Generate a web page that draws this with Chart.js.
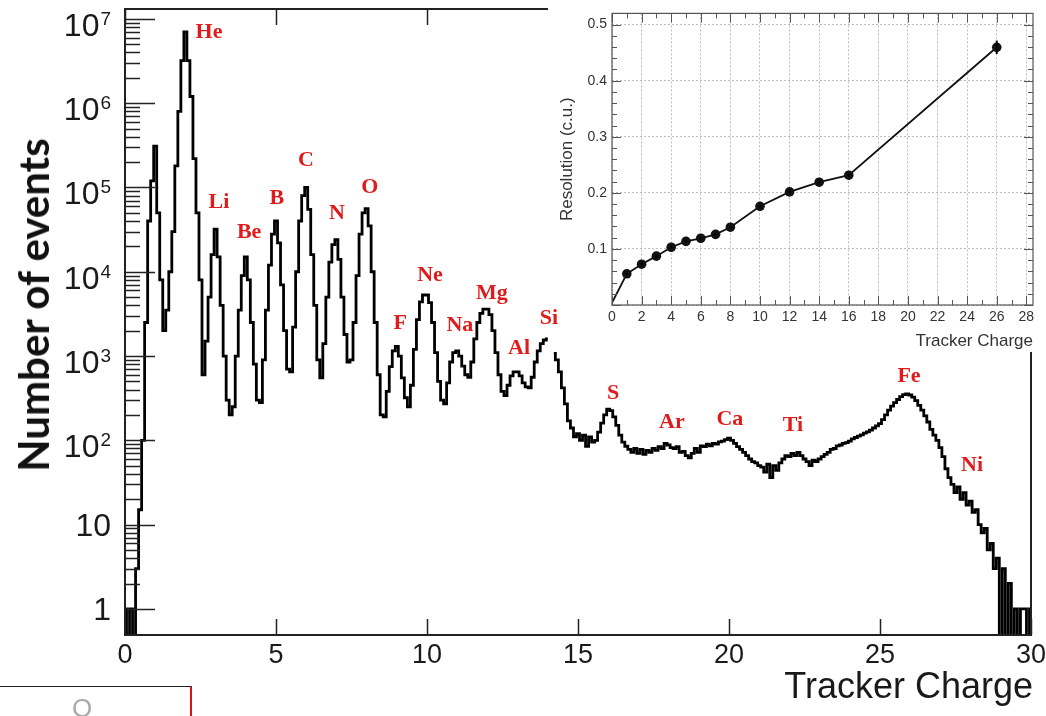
<!DOCTYPE html>
<html>
<head>
<meta charset="utf-8">
<script src="https://cdn.jsdelivr.net/npm/chart.js@4.4.1/dist/chart.umd.min.js"></script>
<style>
  body { margin: 0; background: #fff; }
  #wrap { position: relative; width: 1046px; height: 716px; overflow: hidden; }
  #mainChart { position: absolute; left: 0; top: 0; }
  #insetBox { position: absolute; left: 548px; top: 0; width: 498px; height: 352px; }
  #yTitle {
    position: absolute; left: 33px; top: 305px;
    transform: translate(-50%, -50%) rotate(-90deg);
    font: bold 42px Lato, "Open Sans", sans-serif; color: #111; white-space: nowrap;
  }
  #xTitle {
    position: absolute; right: 13px; top: 668px;
    font: 36px "Liberation Sans", Arial, sans-serif; line-height: 36px; color: #1a1a1a;
  }
  #slideBox {
    position: absolute; left: -2px; top: 686px; width: 192px; height: 40px;
    border-top: 1.5px solid #222; border-right: 2px solid #d11;
  }
  #slideBox span {
    position: absolute; left: 74px; top: 8px;
    font: 26px "Liberation Sans", Arial, sans-serif; line-height: 26px; color: #aaa;
  }
</style>
</head>
<body>
<div id="wrap">
  <canvas id="mainChart" width="1046" height="716"></canvas>
  <div id="yTitle">Number of events</div>
  <div id="xTitle">Tracker Charge</div>
  <div id="slideBox"><span>O</span></div>
  <div id="insetBox"><canvas id="insetChart" width="498" height="352"></canvas></div>
</div>
<script>
// --- MAIN HISTOGRAM DATA (counts per 0.1 charge bin) ---
const BIN_START = 0;
const BIN_WIDTH = 0.1;
const counts = [
  1, 0, 1, 0, 3, 15, 100, 2500, 4.0e4, 1.2e5,                 // 0.0 - 0.9
  3.1e5, 5.0e4, 8000, 2000, 3500, 1.0e4, 3.0e4, 1.8e5, 8.0e5, 3.2e6, // 1.x
  7.0e6, 3.2e6, 1.2e6, 2.2e5, 5.0e4, 8000, 600, 1500, 5000, 1.6e4,   // 2.x
  3.2e4, 1.5e4, 4000, 1000, 300, 200, 250, 1000, 3500, 9000,         // 3.x
  1.5e4, 8000, 2500, 800, 300, 280, 900, 3500, 1.2e4, 2.8e4,         // 4.x
  4.0e4, 2.2e4, 7000, 2000, 700, 650, 2200, 1.0e4, 4.0e4, 8.0e4,     // 5.x
  1.0e5, 5.5e4, 1.6e4, 4000, 900, 550, 1400, 5000, 1.3e4, 2.1e4,     // 6.x
  2.4e4, 1.4e4, 5000, 1800, 850, 900, 2500, 9000, 2.8e4, 5.0e4,      // 7.x
  5.6e4, 3.5e4, 1.0e4, 2500, 600, 200, 190, 380, 750, 1150,          // 8.x
  1300, 1000, 550, 320, 250, 450, 1200, 2700, 4400, 5300,            // 9.x
  5300, 4300, 2500, 1100, 500, 300, 270, 480, 850, 1100,             // 10.x
  1150, 1000, 760, 600, 560, 850, 1600, 2500, 3200, 3600,            // 11.x
  3600, 3100, 2000, 1100, 600, 380, 340, 450, 580, 650,              // 12.x
  650, 580, 480, 430, 420, 560, 850, 1150, 1400, 1550,               // 13.x
  1600, null, 1100, 900, 650, 420, 270, 170, 140, 110,               // 14.x
  120, 100, 115, 85, 110, 95, 100, 125, 160, 200,                    // 15.x
  235, 225, 190, 150, 115, 95, 85, 78, 72, 80,                       // 16.x
  70, 78, 68, 76, 72, 80, 76, 84, 80, 92,                            // 17.x
  88, 82, 80, 84, 72, 74, 66, 62, 70, 80,                            // 18.x
  72, 86, 84, 90, 86, 92, 90, 96, 98, 102,                           // 19.x
  106, 100, 92, 84, 78, 72, 66, 60, 56, 54,                          // 20.x
  50, 48, 42, 52, 36, 50, 44, 54, 60, 66,                            // 21.x
  64, 70, 66, 72, 66, 60, 56, 50, 58, 56,                            // 22.x
  60, 64, 68, 72, 78, 80, 86, 88, 92, 94,                            // 23.x
  98, 104, 108, 112, 116, 122, 126, 132, 140, 148,                   // 24.x
  158, 176, 200, 228, 255, 280, 305, 330, 348, 355,                  // 25.x
  345, 325, 295, 260, 228, 195, 165, 135, 115, 100,                  // 26.x
  82, 64, 46, 36, 30, 24, 28, 20, 24, 17,                            // 27.x
  19, 14, 15, 10, 8, 9, 5, 6, 3, 4,                                  // 28.x
  0, 3, 0, 2, 0, 1, 0, 1, 1, 0,                                      // 29.x
  1                                                                  // 30.0
];

const xTicks = [0, 5, 10, 15, 20, 25, 30];
const yTicks = [1, 10, 1e2, 1e3, 1e4, 1e5, 1e6, 1e7];
const yTickBase = ['1', '10', '10', '10', '10', '10', '10', '10'];
const yTickExp = ['', '', '2', '3', '4', '5', '6', '7'];

// element labels (charge, count at label centre)
const elemNames = ['He', 'Li', 'Be', 'B', 'C', 'N', 'O', 'F', 'Ne', 'Na', 'Mg', 'Al', 'Si', 'S', 'Ar', 'Ca', 'Ti', 'Fe', 'Ni'];
const elemCharge = [2.78, 3.11, 4.11, 5.03, 5.99, 7.02, 8.11, 9.11, 10.1, 11.09, 12.15, 13.05, 14.04, 16.16, 18.11, 20.03, 22.12, 25.96, 28.05];
const elemCount = [7.0e6, 6.6e4, 2.9e4, 7.4e4, 2.1e5, 5.0e4, 1.0e5, 2450, 9100, 2340, 5600, 1230, 2800, 360, 162, 178, 151, 575, 51];

// --- INSET DATA (resolution vs charge) ---
const inCharge = [0, 1, 2, 3, 4, 5, 6, 7, 8, 10, 12, 14, 16, 26];
const inRes = [0.004, 0.0556, 0.0728, 0.0871, 0.103, 0.1135, 0.119, 0.126, 0.1387, 0.176, 0.2017, 0.219, 0.2315, 0.4596];
const inErr = [0, 0.002, 0.002, 0.002, 0.002, 0.002, 0.002, 0.002, 0.002, 0.002, 0.002, 0.002, 0.003, 0.012];

const FLOOR = 0.1; // empty bins are drawn down to the axis
const histData = counts.map((c, i) => ({
  x: BIN_START + i * BIN_WIDTH,
  y: c === null ? null : (c > 0 ? c : FLOOR)
}));

function seg(ctx, x1, y1, x2, y2) {
  ctx.beginPath(); ctx.moveTo(x1, y1); ctx.lineTo(x2, y2); ctx.stroke();
}

// --- 1. MAIN FRAME, TICKS, LABELS (ROOT style, ticks inside) ---
const rootFrame = {
  id: 'rootFrame',
  afterDatasetsDraw(chart) {
    const { ctx, chartArea: a, scales: { x, y } } = chart;
    ctx.save();
    ctx.strokeStyle = '#222';
    ctx.lineWidth = 2;
    ctx.strokeRect(a.left, a.top, a.right - a.left, a.bottom - a.top);

    ctx.lineWidth = 1.5;
    for (let e = 0; e <= 7; e++) {
      for (let k = 1; k <= 9; k++) {
        const v = k * Math.pow(10, e);
        if (v > y.max) break;
        const py = Math.round(y.getPixelForValue(v)) + 0.5;
        seg(ctx, a.left, py, a.left + (k === 1 ? 30 : 15), py);
      }
    }
    xTicks.forEach(v => {
      const px = Math.round(x.getPixelForValue(v)) + 0.5;
      seg(ctx, px, a.bottom, px, a.bottom - 16);
      seg(ctx, px, a.top, px, a.top + 16);
    });

    // white panel behind the inset plot
    ctx.fillStyle = '#fff';
    ctx.fillRect(548, 0, 498, 352);

    // tick labels
    ctx.fillStyle = '#1a1a1a';
    ctx.textBaseline = 'alphabetic';
    ctx.font = '27px "Liberation Sans", Arial, sans-serif';
    ctx.textAlign = 'center';
    xTicks.forEach(v => ctx.fillText(String(v), x.getPixelForValue(v), a.bottom + 28));

    const right = 111;
    yTicks.forEach((v, i) => {
      const py = y.getPixelForValue(v);
      if (yTickExp[i]) {
        ctx.font = '19px "Liberation Sans", Arial, sans-serif';
        const ew = ctx.measureText(yTickExp[i]).width;
        ctx.textAlign = 'left';
        ctx.fillText(yTickExp[i], right - ew, py + 6);
        ctx.font = '32px "Liberation Sans", Arial, sans-serif';
        ctx.textAlign = 'right';
        ctx.fillText(yTickBase[i], right - ew - 1, py + 17);
      } else {
        ctx.font = '32px "Liberation Sans", Arial, sans-serif';
        ctx.textAlign = 'right';
        ctx.fillText(yTickBase[i], right, py + 11);
      }
    });

    // element names
    ctx.fillStyle = '#e01b1b';
    ctx.font = 'bold 22px "Liberation Serif", "Times New Roman", serif';
    ctx.textAlign = 'center';
    ctx.textBaseline = 'middle';
    elemNames.forEach((n, i) => {
      ctx.fillText(n, x.getPixelForValue(elemCharge[i]), y.getPixelForValue(elemCount[i]));
    });
    ctx.restore();
  }
};

new Chart(document.getElementById('mainChart'), {
  type: 'line',
  data: {
    datasets: [{
      data: histData,
      borderColor: '#000',
      borderWidth: 2.8,
      pointRadius: 0,
      stepped: 'middle',
      spanGaps: false,
      fill: false
    }]
  },
  options: {
    responsive: false,
    animation: false,
    layout: { padding: { left: 125, right: 15, top: 9, bottom: 81 } },
    plugins: { legend: { display: false }, tooltip: { enabled: false } },
    scales: {
      x: { type: 'linear', min: 0, max: 30, display: false },
      y: { type: 'logarithmic', min: 0.49, max: 1.31e7, display: false }
    }
  },
  plugins: [rootFrame]
});

// --- 2. INSET ---
const insetFrame = {
  id: 'insetFrame',
  afterDatasetsDraw(chart) {
    const { ctx, chartArea: a, scales: { x, y } } = chart;
    ctx.save();
    ctx.strokeStyle = '#555';
    ctx.lineWidth = 1.2;
    ctx.strokeRect(a.left, a.top, a.right - a.left, a.bottom - a.top);
    ctx.lineWidth = 1;
    for (let v = 0; v <= 0.52; v += 0.02) {
      const py = Math.round(y.getPixelForValue(v)) + 0.5;
      const major = Math.abs(v * 10 - Math.round(v * 10)) < 1e-6;
      const len = major ? 9 : 5;
      seg(ctx, a.left, py, a.left + len, py);
      seg(ctx, a.right, py, a.right - len, py);
    }
    for (let v = 0; v <= 28; v += 1) {
      const px = Math.round(x.getPixelForValue(v)) + 0.5;
      const len = v % 2 === 0 ? 9 : 5;
      seg(ctx, px, a.bottom, px, a.bottom - len);
      seg(ctx, px, a.top, px, a.top + len);
    }
    // error bars
    ctx.strokeStyle = '#000';
    ctx.lineWidth = 2;
    inCharge.forEach((c, i) => {
      if (!inErr[i]) return;
      const px = x.getPixelForValue(c);
      seg(ctx, px, y.getPixelForValue(inRes[i] - inErr[i]), px, y.getPixelForValue(inRes[i] + inErr[i]));
    });
    ctx.restore();
  }
};

new Chart(document.getElementById('insetChart'), {
  type: 'line',
  data: {
    datasets: [{
      data: inCharge.map((c, i) => ({ x: c, y: inRes[i] })),
      borderColor: '#111',
      borderWidth: 1.8,
      backgroundColor: '#111',
      pointRadius: inCharge.map((c, i) => (i === 0 ? 0 : 4.8)),
      pointBorderWidth: 0,
      tension: 0
    }]
  },
  options: {
    responsive: false,
    animation: false,
    layout: { padding: { left: 0, right: 13, top: 6, bottom: 0 } },
    plugins: { legend: { display: false }, tooltip: { enabled: false } },
    scales: {
      x: {
        type: 'linear', min: 0, max: 28.45,
        afterFit: s => { s.height = 47; },
        ticks: {
          stepSize: 2, includeBounds: false, padding: 4, color: '#333',
          font: { family: '"Liberation Sans", Arial, sans-serif', size: 14 }
        },
        grid: { color: '#bdbdbd', lineWidth: 1, drawTicks: false },
        border: { display: false, dash: [2, 2] },
        title: {
          display: true, text: 'Tracker Charge', align: 'end', color: '#333',
          font: { family: '"Liberation Sans", Arial, sans-serif', size: 17 },
          padding: { top: 7, bottom: 0 }
        }
      },
      y: {
        min: 0, max: 0.52,
        afterFit: s => { s.width = 64; },
        ticks: {
          stepSize: 0.1, includeBounds: false, padding: 5, color: '#333',
          font: { family: '"Liberation Sans", Arial, sans-serif', size: 14 },
          callback: v => (v === 0 ? '' : v.toFixed(1))
        },
        grid: { color: '#bdbdbd', lineWidth: 1, drawTicks: false },
        border: { display: false, dash: [2, 2] },
        title: {
          display: true, text: 'Resolution (c.u.)', color: '#333',
          font: { family: '"Liberation Sans", Arial, sans-serif', size: 17 },
          padding: { top: 9, bottom: 0 }
        }
      }
    }
  },
  plugins: [insetFrame]
});
</script>
</body>
</html>
